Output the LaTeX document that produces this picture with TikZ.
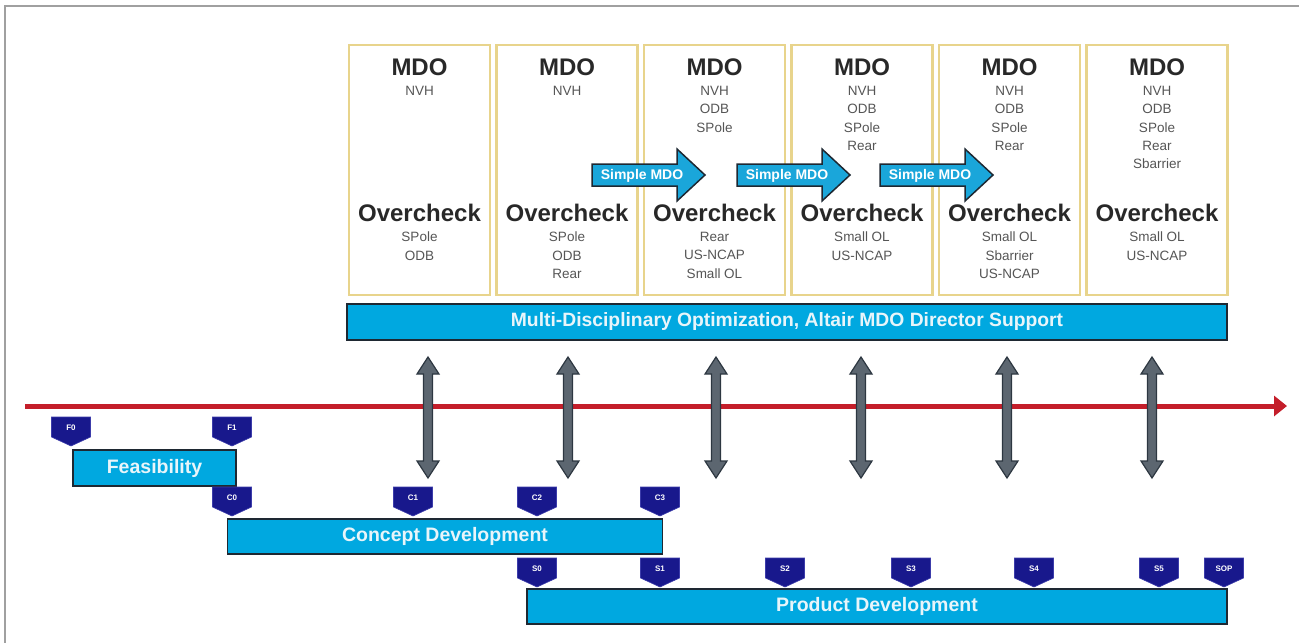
\documentclass[tikz,border=0pt]{standalone}
\usepackage{fontspec}
\setmainfont{Liberation Sans}
\usetikzlibrary{arrows.meta}
\definecolor{barcyan}{RGB}{0,168,224}
\definecolor{bardark}{RGB}{30,40,50}
\definecolor{bartext}{RGB}{232,245,250}
\definecolor{boxyellow}{RGB}{232,212,140}
\definecolor{itemgray}{RGB}{85,85,85}
\definecolor{titlegray}{RGB}{40,40,40}
\definecolor{arrowcyan}{RGB}{26,166,218}
\definecolor{dagray}{RGB}{92,102,112}
\definecolor{dadark}{RGB}{45,55,65}
\definecolor{navy}{RGB}{24,24,140}
\definecolor{navyedge}{RGB}{60,60,170}
\definecolor{tlred}{RGB}{196,30,42}
\definecolor{framegray}{RGB}{160,160,160}
\newcommand\myfs[2]{\fontsize{#1}{#2}\selectfont}
\begin{document}
\begin{tikzpicture}[x=1pt,y=-1pt,
  ybox/.style={draw=boxyellow, line width=2.5, minimum width=141, minimum height=250, inner sep=0},
  ttl/.style={font=\bfseries\myfs{24}{28}, text=titlegray, inner sep=0},
  itm/.style={font=\myfs{13.5}{18.3}, text=itemgray, align=center, inner sep=0, anchor=north},
  bar/.style={draw=bardark, line width=1.6, fill=barcyan, text=bartext, font=\bfseries\myfs{19.5}{22}, inner sep=0},
  sarrow/.style={fill=arrowcyan, draw=bardark, line width=1.5},
  slabel/.style={text=white, font=\bfseries\myfs{14}{16}, inner sep=0},
  darrow/.style={fill=dagray, draw=dadark, line width=1.2},
  tagshape/.style={fill=navy, draw=navyedge, line width=0.6},
  taglbl/.style={text=white, font=\bfseries\myfs{8}{9}, inner sep=0},
  frame/.style={draw=framegray, line width=2},
  tline/.style={draw=tlred, line width=5, -{Triangle[length=13pt 0, width=20pt 0]}}
]
\useasboundingbox (0,0) rectangle (1299,643);
% frame
\draw[frame] (1299,6) -- (5,6) -- (5,643);

% yellow boxes
\foreach \cx [count=\i] in {419.5,567,714.5,862,1009.5,1157} {
  \node[ybox] (box\i) at (\cx,170) {};
  \node[ttl] (mdo\i) at (\cx,67) {MDO};
  \node[ttl] (oc\i) at (\cx,213) {Overcheck};
}
\node[itm] (mi1) at (419.5,86) {NVH};
\node[itm] (mi2) at (567,86) {NVH};
\node[itm] (mi3) at (714.5,86) {NVH\\ODB\\SPole};
\node[itm] (mi4) at (862,86) {NVH\\ODB\\SPole\\Rear};
\node[itm] (mi5) at (1009.5,86) {NVH\\ODB\\SPole\\Rear};
\node[itm] (mi6) at (1157,86) {NVH\\ODB\\SPole\\Rear\\Sbarrier};
\node[itm] (oi1) at (419.5,232) {SPole\\ODB};
\node[itm] (oi2) at (567,232) {SPole\\ODB\\Rear};
\node[itm] (oi3) at (714.5,232) {Rear\\US-NCAP\\Small OL};
\node[itm] (oi4) at (862,232) {Small OL\\US-NCAP};
\node[itm] (oi5) at (1009.5,232) {Small OL\\Sbarrier\\US-NCAP};
\node[itm] (oi6) at (1157,232) {Small OL\\US-NCAP};

% simple MDO arrows
\foreach \x [count=\k] in {592,737,880} {
  \draw[sarrow] (\x,164) -- (\x+85,164) -- (\x+85,149) -- (\x+113,175) -- (\x+85,201) -- (\x+85,186) -- (\x,186) -- cycle;
  \node[slabel] (sm\k) at (\x+50,175.5) {Simple MDO};
}

% MDO bar
\node[bar, minimum width=880, minimum height=36, font=\bfseries\myfs{19.3}{22}] (mdobar) at (787,322) {Multi-Disciplinary Optimization, Altair MDO Director Support};

% timeline
\coordinate (tl0) at (25,406);
\coordinate (tl1) at (1287,406);
\draw[tline] (tl0) -- (tl1);

% double arrows
\foreach \x [count=\k] in {428,568,716,861,1007,1152} {
  \draw[darrow] (\x-4.5,374) -- (\x-4.5,461) -- (\x-11,461) -- (\x,478) -- (\x+11,461) -- (\x+4.5,461) -- (\x+4.5,374) -- (\x+11,374) -- (\x,357) -- (\x-11,374) -- cycle;
}

% phase bars
\node[bar, minimum width=163, minimum height=36] (feas) at (154.5,468) {Feasibility};
\node[bar, minimum width=435, minimum height=35] (concept) at (445,536.5) {Concept Development};
\node[bar, minimum width=700, minimum height=35] (product) at (877,606.5) {Product Development};

% milestone tags
\foreach \cx/\top/\lbl in {71/417/F0, 232/417/F1, 232/487/C0, 413/487/C1, 537/487/C2, 660/487/C3, 537/558/S0, 660/558/S1, 785/558/S2, 911/558/S3, 1034/558/S4, 1159/558/S5, 1224/558/SOP} {
  \draw[tagshape] (\cx-19.5,\top) -- (\cx+19.5,\top) -- (\cx+19.5,\top+20) -- (\cx,\top+29) -- (\cx-19.5,\top+20) -- cycle;
  \node[taglbl] (tag\lbl) at (\cx,\top+11) {\lbl};
}
\end{tikzpicture}
\end{document}
